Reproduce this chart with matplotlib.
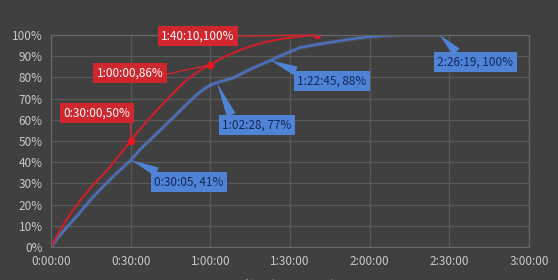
import matplotlib
matplotlib.use("Agg")
import matplotlib.pyplot as plt
from matplotlib.ticker import FuncFormatter, MultipleLocator

plt.rcParams['font.family'] = ['Noto Sans CJK SC', 'DejaVu Sans']

# 数据：时间（分钟），完成比例
red_minutes = [0, 3.4, 8, 12, 16, 21, 25.5, 30, 33.5, 37.3, 41, 44.8, 48.5, 52.3,
               56, 60, 64, 68.5, 72.5, 76.5, 81, 85.5, 90, 95, 100.17]
red_ratio = [0, 0.08, 0.17, 0.236, 0.295, 0.36, 0.43, 0.50, 0.555, 0.61, 0.66, 0.71,
             0.757, 0.80, 0.833, 0.86, 0.889, 0.915, 0.935, 0.952, 0.967, 0.978,
             0.987, 0.995, 1.0]

blue_minutes = [0, 3, 6, 10, 15.8, 20, 24.8, 27.5, 30.08, 33.5, 37.3, 41.5, 46,
                50.5, 55, 58, 60, 62.47, 65, 68.5, 72, 76, 79.5, 82.75, 87, 93.7,
                100, 106, 112, 119, 125, 131.5, 139, 146.32]
blue_ratio = [0, 0.05, 0.094, 0.15, 0.236, 0.29, 0.35, 0.38, 0.41, 0.46, 0.505, 0.556,
              0.61, 0.667, 0.72, 0.748, 0.764, 0.775, 0.785, 0.797, 0.82, 0.844,
              0.863, 0.88, 0.905, 0.94, 0.955, 0.967, 0.979, 0.99, 0.996, 1.0,
              1.0, 1.0]

# 标注点
red_marks_x = [30, 60, 100.17]
red_marks_y = [0.50, 0.86, 1.0]
red_labels = ['0:30:00,50%', '1:00:00,86%', '1:40:10,100%']
red_label_pos = [(17.3, 0.632), (29.7, 0.821), (55.4, 0.995)]
red_relpos = [(1.0, 0.0), (1.0, 0.35), (1.0, 0.5)]

blue_marks_x = [30.08, 62.47, 82.75, 146.32]
blue_marks_y = [0.41, 0.775, 0.88, 1.0]
blue_labels = ['0:30:05, 41%', '1:02:28, 77%', '1:22:45, 88%', '2:26:19, 100%']
blue_label_pos = [(52.0, 0.307), (77.6, 0.575), (105.8, 0.783), (159.7, 0.873)]
blue_relpos = [(0.15, 1.0), (0.15, 1.0), (0.1, 1.0), (0.3, 1.0)]

BG = '#404040'
GRID = '#595959'
TXT = '#c8c8c8'
RED = '#c8202b'
RED_BOX = '#d0262d'
BLUE = '#4a72c4'
BLUE_BOX = '#4f83d6'
BLUE_TXT = '#14285a'


def hms(x, pos=None):
    s = int(round(x * 60))
    return f'{s // 3600}:{(s % 3600) // 60:02d}:{s % 60:02d}'


fig = plt.figure(figsize=(5.58, 2.8), dpi=100, facecolor=BG)
ax = fig.add_axes([51 / 558, 1 - 247 / 280, 478 / 558, 212 / 280])
ax.set_facecolor(BG)

ax.set_xlim(0, 180)
ax.set_ylim(0, 1)
ax.xaxis.set_major_locator(MultipleLocator(30))
ax.yaxis.set_major_locator(MultipleLocator(0.1))
ax.xaxis.set_major_formatter(FuncFormatter(hms))
ax.yaxis.set_major_formatter(FuncFormatter(lambda v, p: f'{v * 100:.0f}%'))
ax.grid(True, color=GRID, lw=0.9)
ax.set_axisbelow(True)
for sp in ax.spines.values():
    sp.set_color('#666666')
    sp.set_linewidth(0.9)
ax.tick_params(length=0, colors=TXT, labelsize=8.5, pad=6)

# 蓝线（带光晕）
ax.plot(blue_minutes, blue_ratio, color='#6f95e0', lw=3.2, alpha=0.2, solid_capstyle='round')
ax.plot(blue_minutes, blue_ratio, color=BLUE, lw=1.5, solid_joinstyle='round')
# 红线
ax.plot(red_minutes, red_ratio, color=RED, lw=1.6, solid_joinstyle='round')
ax.plot(red_marks_x, red_marks_y, 'o', color='#e8141e', ms=4.5)

for x, y, t, pos, rp in zip(red_marks_x, red_marks_y, red_labels, red_label_pos, red_relpos):
    ax.annotate(t, xy=(x, y), xytext=pos, ha='center', va='center',
                color='white', fontsize=8.5,
                bbox=dict(boxstyle='square,pad=0.3', fc=RED_BOX, ec='none'),
                arrowprops=dict(arrowstyle='-', color=RED_BOX, lw=1.0,
                                relpos=rp, shrinkA=0, shrinkB=0))

for x, y, t, pos, rp in zip(blue_marks_x, blue_marks_y, blue_labels, blue_label_pos, blue_relpos):
    ax.annotate(t, xy=(x, y), xytext=pos, ha='center', va='center',
                color=BLUE_TXT, fontsize=8.5,
                bbox=dict(boxstyle='square,pad=0.3', fc=BLUE_BOX, ec='none'),
                arrowprops=dict(arrowstyle='wedge,tail_width=0.8', fc=BLUE_BOX, ec='none',
                                relpos=rp, shrinkA=0, shrinkB=0))

# 坐标轴标题（原图中被裁切，只露出一部分）
ax.set_xlabel('时间（hh:mm:ss）', color=TXT, fontsize=9, labelpad=8)
ax.set_ylabel('完成比例', color=TXT, fontsize=9)
ax.yaxis.set_label_coords(-0.105, 0.45)

fig.savefig('out.png', dpi=100, facecolor=BG)
